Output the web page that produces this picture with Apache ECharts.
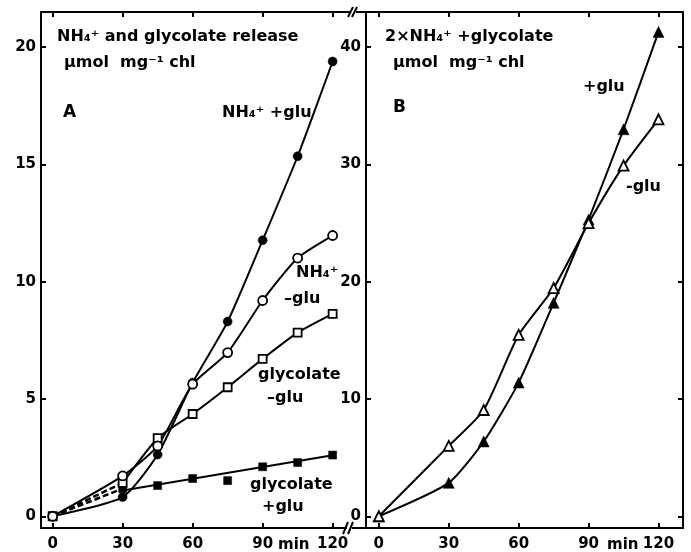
<!DOCTYPE html>
<html>
<head>
<meta charset="utf-8">
<script src="https://cdn.jsdelivr.net/npm/echarts@6/dist/echarts.min.js"></script>
<style>html,body{margin:0;padding:0;background:#fff;}#c{width:691px;height:552px;}</style>
</head>
<body>
<div id="c"></div>
<script>
// ---- data ----
const times = [0, 30, 45, 60, 75, 90, 105, 120];
// Panel A: µmol mg-1 chl
const nh4PlusGlu  = [0, 0.82, 2.63, 5.70, 8.30, 11.77, 15.35, 19.39];
const nh4MinusGlu = [0, 1.72, 3.00, 5.63, 6.98, 9.20, 11.01, 11.97];
const glyMinusGlu = [0, 1.42, 3.33, 4.36, 5.50, 6.71, 7.83, 8.63];
const glyPlusGlu  = [0, 1.18, 1.31, 1.61, 1.52, 2.11, 2.29, 2.61];
// drawn straight line through glycolate +glu points (30..120 min)
const glyPlusGluLineT = [30, 120];
const glyPlusGluLine  = [1.10, 2.60];
// Panel B: 2 x NH4+ + glycolate
const sumPlusGlu  = [0, 2.85, 6.38, 11.40, 18.20, 25.30, 33.00, 41.30];
const sumMinusGlu = [0, 6.00, 9.06, 15.47, 19.46, 25.00, 29.90, 33.85];
// ticks
const xTicks  = [0, 30, 60, 90, 120];
const yTicksA = [0, 5, 10, 15, 20];
const yTicksB = [0, 10, 20, 30, 40];

const pairs = (xs, ys) => xs.map((x, i) => [x, ys[i]]);

const FONT = 'DejaVu Sans';
const BLACK = '#000';

function xAxisDef(grid, pos, labels, min, max) {
  return {
    type: 'value', gridIndex: grid, position: pos, min: min, max: max,
    axisLine: { show: true, onZero: false, lineStyle: { color: BLACK, width: 2 } },
    axisTick: { show: true, inside: true, length: 5, customValues: xTicks, lineStyle: { color: BLACK, width: 2 } },
    axisLabel: { show: labels, customValues: xTicks, color: BLACK, fontFamily: FONT, fontWeight: 'bold', fontSize: 15, margin: 9 },
    splitLine: { show: false }
  };
}
function yAxisDef(grid, pos, labels, min, max, ticks) {
  return {
    type: 'value', gridIndex: grid, position: pos, min: min, max: max,
    axisLine: { show: true, onZero: false, lineStyle: { color: BLACK, width: 2 } },
    axisTick: { show: true, inside: true, length: 5, customValues: ticks, lineStyle: { color: BLACK, width: 2 } },
    axisLabel: { show: labels, customValues: ticks, color: BLACK, fontFamily: FONT, fontWeight: 'bold', fontSize: 15, margin: 5 },
    splitLine: { show: false }
  };
}

function lineSeries(xi, yi, data, opts) {
  return Object.assign({
    type: 'line', xAxisIndex: xi, yAxisIndex: yi, data: data,
    smooth: 0.2, showSymbol: false, symbol: 'none', silent: true,
    lineStyle: { color: BLACK, width: 2 }, z: 2
  }, opts || {});
}
function markerSeries(xi, yi, data, symbol, size, filled, z) {
  return {
    type: 'scatter', xAxisIndex: xi, yAxisIndex: yi, data: data,
    symbol: symbol, symbolSize: size, silent: true, z: z || 3,
    itemStyle: filled ? { color: BLACK, borderColor: BLACK, borderWidth: 0.5, opacity: 1 }
                      : { color: '#fff', borderColor: BLACK, borderWidth: 1.8, opacity: 1 }
  };
}

const A_nh4P = pairs(times, nh4PlusGlu);
const A_nh4M = pairs(times, nh4MinusGlu);
const A_glyM = pairs(times, glyMinusGlu);
const A_glyP = pairs(times, glyPlusGlu);
const B_P = pairs(times, sumPlusGlu);
const B_M = pairs(times, sumMinusGlu);

const dashed = { color: BLACK, width: 2.5, type: [6, 3] };

function txt(x, y, s, size) {
  return { type: 'text', x: x, y: y, silent: true,
    style: { text: s, fill: BLACK, font: 'bold ' + (size || 16) + 'px "' + FONT + '"', textAlign: 'left', textVerticalAlign: 'middle' } };
}
function seg(x1, y1, x2, y2, w) {
  return { type: 'line', silent: true, shape: { x1: x1, y1: y1, x2: x2, y2: y2 }, style: { stroke: BLACK, lineWidth: w || 2 } };
}

const option = {
  backgroundColor: '#fff',
  animation: false,
  grid: [
    { left: 41, top: 12, width: 304, height: 516 },
    { left: 366, top: 12, width: 317, height: 516 }
  ],
  xAxis: [
    xAxisDef(0, 'bottom', true, -5, 125.3),
    xAxisDef(0, 'top', false, -5, 125.3),
    xAxisDef(1, 'bottom', true, -5.5, 130.5),
    xAxisDef(1, 'top', false, -5.5, 130.5)
  ],
  yAxis: [
    yAxisDef(0, 'left', true, -0.5, 21.5, yTicksA),
    yAxisDef(1, 'left', true, -1, 43, yTicksB),
    yAxisDef(1, 'right', false, -1, 43, yTicksB)
  ],
  series: [
    // Panel A lines
    lineSeries(0, 0, A_nh4P),
    lineSeries(0, 0, A_nh4M),
    lineSeries(0, 0, A_glyM.slice(0, 2), { smooth: false, lineStyle: dashed }),
    lineSeries(0, 0, A_glyM.slice(1)),
    lineSeries(0, 0, A_glyP.slice(0, 2), { smooth: false, lineStyle: dashed }),
    lineSeries(0, 0, pairs(glyPlusGluLineT, glyPlusGluLine), { smooth: false }),
    // Panel A markers
    markerSeries(0, 0, A_glyP, 'rect', 8, true),
    markerSeries(0, 0, A_glyM, 'rect', 8, false),
    markerSeries(0, 0, A_nh4P, 'circle', 9, true),
    markerSeries(0, 0, A_nh4M, 'circle', 9, false, 4),
    // Panel B lines
    lineSeries(2, 1, B_P),
    lineSeries(2, 1, B_M),
    markerSeries(2, 1, B_P, 'triangle', 11, true),
    markerSeries(2, 1, B_M, 'triangle', 10, false, 4)
  ],
  graphic: [
    // axis break connectors
    seg(345, 12, 351, 12), seg(356, 12, 367, 12),
    seg(348, 17, 353, 7), seg(352, 17, 357, 7),
    seg(345, 528, 347, 528), seg(352, 528, 367, 528),
    seg(343, 534, 348, 522), seg(348, 534, 353, 522),
    // Panel A text
    txt(57, 37, 'NH₄⁺ and glycolate release'),
    txt(64, 63, 'µmol  mg⁻¹ chl'),
    txt(63, 113, 'A', 17),
    txt(222, 113, 'NH₄⁺ +glu'),
    txt(296, 273, 'NH₄⁺'),
    txt(284, 299, '–glu'),
    txt(258, 375, 'glycolate'),
    txt(267, 398, '–glu'),
    txt(250, 485, 'glycolate'),
    txt(262, 507, '+glu'),
    txt(278, 545, 'min', 15),
    // Panel B text
    txt(385, 37, '2×NH₄⁺ +glycolate'),
    txt(393, 63, 'µmol  mg⁻¹ chl'),
    txt(393, 108, 'B', 17),
    txt(583, 87, '+glu'),
    txt(626, 187, '-glu'),
    txt(607, 545, 'min', 15)
  ]
};

const chart = echarts.init(document.getElementById('c'), null, { renderer: 'canvas' });
chart.setOption(option);
</script>
</body>
</html>
